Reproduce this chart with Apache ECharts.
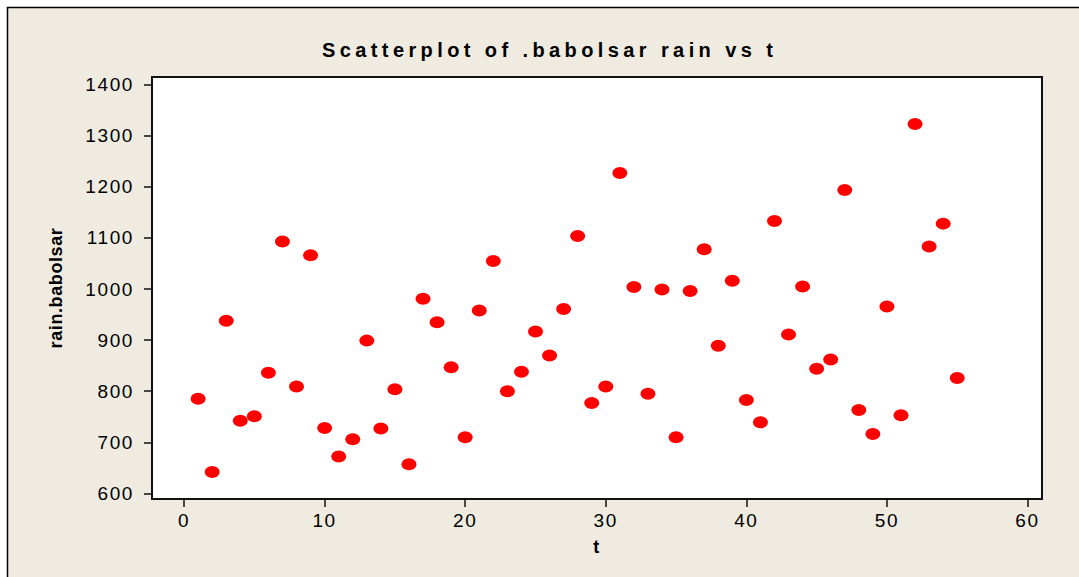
<!DOCTYPE html>
<html>
<head>
<meta charset="utf-8">
<script src="https://cdn.jsdelivr.net/npm/echarts@6/dist/echarts.min.js"></script>
<style>
  html, body { margin: 0; padding: 0; background: #fff; }
  #main { width: 1079px; height: 577px; }
</style>
</head>
<body>
<div id="main"></div>
<script>
// time index and yearly rain at babolsar
const tValues = [1, 2, 3, 4, 5, 6, 7, 8, 9, 10, 11, 12, 13, 14, 15, 16, 17, 18, 19, 20,
  21, 22, 23, 24, 25, 26, 27, 28, 29, 30, 31, 32, 33, 34, 35, 36, 37, 38, 39, 40,
  41, 42, 43, 44, 45, 46, 47, 48, 49, 50, 51, 52, 53, 54, 55];
const rainValues = [785, 642, 938, 742, 751, 836, 1093, 809, 1066, 728, 672, 706, 899, 727, 804,
  657, 981, 935, 847, 710, 958, 1055, 800, 838, 917, 870, 961, 1104, 777, 809, 1227, 1004,
  795, 999, 710, 996, 1078, 889, 1016, 783, 739, 1133, 911, 1005, 844, 862, 1194, 763, 716,
  966, 753, 1323, 1083, 1128, 826];

const xTicks = [0, 10, 20, 30, 40, 50, 60];
const yTicks = [600, 700, 800, 900, 1000, 1100, 1200, 1300, 1400];

const titleText = "Scatterplot of .babolsar rain vs t";
const xName = "t";
const yName = "rain.babolsar";

const font = "'Liberation Sans', Arial, sans-serif";
const ellipse = "path://M0,6 A6,6 0 1,1 12,6 A6,6 0 1,1 0,6 Z";

const chart = echarts.init(document.getElementById("main"), null, { renderer: "svg" });

const points = tValues.map((t, i) => [t, rainValues[i]]);

const axisLine = { show: true, onZero: false, lineStyle: { color: "#111", width: 2 } };
const nameStyle = { fontFamily: font, fontSize: 18, fontWeight: "bold", color: "#000" };
const labelStyle = { margin: 12, fontFamily: font, fontSize: 19, color: "#000", formatter: (v) => String(v) };

chart.setOption({
  animation: false,
  backgroundColor: "#fff",
  graphic: [
    {
      type: "rect",
      z: -10,
      shape: { x: 7.5, y: 7.5, width: 1200, height: 700 },
      style: { fill: "#EFEBE0", stroke: "#000", lineWidth: 1.5 },
    },
  ],
  title: {
    text: titleText,
    left: 317,
    top: 35,
    textStyle: { fontFamily: font, fontSize: 20, fontWeight: "bold", color: "#000" },
  },
  grid: {
    left: 152,
    top: 77,
    right: 37,
    bottom: 78,
    show: true,
    backgroundColor: "#fff",
    borderColor: "#111",
    borderWidth: 2,
  },
  xAxis: {
    type: "value",
    min: -2.28,
    max: 61.03,
    name: xName,
    nameLocation: "middle",
    nameGap: 39,
    nameTextStyle: nameStyle,
    axisLine: axisLine,
    axisTick: { show: true, length: 8, lineStyle: { color: "#111", width: 1.5 }, customValues: xTicks },
    axisLabel: Object.assign({}, labelStyle, { customValues: xTicks }),
    splitLine: { show: false },
  },
  yAxis: {
    type: "value",
    min: 589,
    max: 1415,
    name: yName,
    nameLocation: "middle",
    nameRotate: 90,
    nameGap: 87,
    nameTextStyle: nameStyle,
    axisLine: axisLine,
    axisTick: { show: true, length: 8, lineStyle: { color: "#111", width: 1.5 }, customValues: yTicks },
    axisLabel: Object.assign({}, labelStyle, { customValues: yTicks, margin: 18 }),
    splitLine: { show: false },
  },
  series: [
    {
      type: "scatter",
      data: points,
      symbol: ellipse,
      symbolSize: [15, 12],
      itemStyle: { color: "#FF0000", opacity: 1 },
    },
  ],
});

// the original uses wide letter spacing, echarts has no option for it
document.querySelectorAll("#main svg text").forEach((el) => {
  const s = el.textContent;
  if (s === titleText) el.style.letterSpacing = "4.4px";
  else if (s === yName) el.style.letterSpacing = "0.6px";
  else el.style.letterSpacing = "1.6px";
});
</script>
</body>
</html>
